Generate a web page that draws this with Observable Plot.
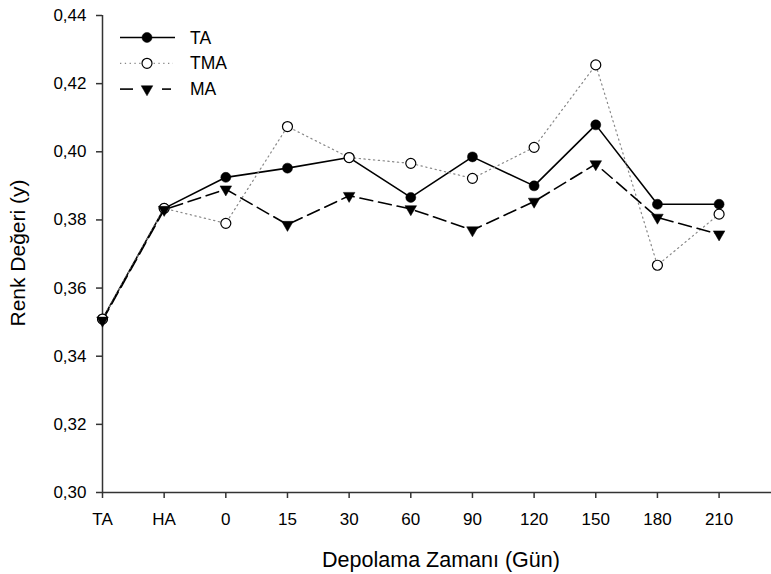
<!DOCTYPE html>
<html>
<head>
<meta charset="utf-8">
<script src="https://cdn.jsdelivr.net/npm/d3@7"></script>
<script src="https://cdn.jsdelivr.net/npm/@observablehq/plot@0.6"></script>
<style>
  html, body { margin: 0; padding: 0; background: #fff; }
  #chart { position: relative; width: 771px; height: 574px; }
</style>
</head>
<body>
<div id="chart"></div>
<script>
const categories = ["TA", "HA", "0", "15", "30", "60", "90", "120", "150", "180", "210"];
const seriesNames = ["TA", "TMA", "MA"];
const taValues  = [0.3509, 0.3834, 0.3925, 0.3952, 0.3983, 0.3866, 0.3985, 0.3900, 0.4079, 0.3846, 0.3846];
const tmaValues = [0.3509, 0.3834, 0.3790, 0.4074, 0.3983, 0.3966, 0.3922, 0.4013, 0.4255, 0.3667, 0.3817];
const maValues  = [0.3505, 0.3830, 0.3890, 0.3786, 0.3871, 0.3832, 0.3770, 0.3854, 0.3964, 0.3807, 0.3758];
const yTicks = [0.30, 0.32, 0.34, 0.36, 0.38, 0.40, 0.42, 0.44];

const toRows = (vals, s) => vals.map((v, i) => ({i, cat: categories[i], value: v, series: s}));
const ta = toRows(taValues, "TA");
const tma = toRows(tmaValues, "TMA");
const ma = toRows(maValues, "MA");

const triangleDown = {
  draw(context, size) {
    const y = Math.sqrt(size / (3 * Math.sqrt(3)));
    context.moveTo(0, 2 * y);
    context.lineTo(Math.sqrt(3) * y, -y);
    context.lineTo(-Math.sqrt(3) * y, -y);
    context.closePath();
  }
};

const fmt = d => d3.format(".2f")(d).replace(".", ",");
const font = "'Liberation Sans', Arial, sans-serif";

const chart = Plot.plot({
  width: 771,
  height: 574,
  marginLeft: 102,
  marginRight: 0,
  marginTop: 15,
  marginBottom: 82,
  style: {fontFamily: font, fontSize: "17px", color: "#000", background: "#fff", overflow: "visible"},
  x: {type: "linear", domain: [0, 10.85]},
  y: {domain: [0.30, 0.44]},
  marks: [
    Plot.axisX(d3.range(categories.length), {tickFormat: i => categories[i], tickSize: 6, tickPadding: 14, fontSize: 17, stroke: "#333", strokeWidth: 1.5, label: null}),
    Plot.axisY(yTicks, {tickFormat: fmt, tickSize: 6, tickPadding: 10, fontSize: 17, stroke: "#333", strokeWidth: 1.5, label: null}),
    Plot.ruleX([0], {stroke: "#333", strokeWidth: 1.5}),
    Plot.ruleY([0.30], {stroke: "#333", strokeWidth: 1.5}),
    Plot.line(ta, {x: "i", y: "value", stroke: "#000", strokeWidth: 1.6}),
    Plot.line(tma, {x: "i", y: "value", stroke: "#888", strokeWidth: 1.2, strokeDasharray: "1.3,3.5"}),
    Plot.line(ma, {x: "i", y: "value", stroke: "#000", strokeWidth: 1.6, strokeDasharray: "13,6"}),
    Plot.dot(ta, {x: "i", y: "value", r: 5, fill: "#000", stroke: "#000", strokeWidth: 0.5}),
    Plot.dot(tma, {x: "i", y: "value", r: 5, fill: "#fff", stroke: "#000", strokeWidth: 1.2}),
    Plot.dot(ma, {x: "i", y: "value", r: 4.3, symbol: triangleDown, fill: "#000", stroke: "#000", strokeWidth: 0.5})
  ]
});

const svg = d3.select(chart);

// Axis titles
svg.append("text")
  .attr("x", 441).attr("y", 567)
  .attr("text-anchor", "middle")
  .style("font-family", font).style("font-size", "21.5px").attr("fill", "#000")
  .text("Depolama Zamanı (Gün)");
svg.append("text")
  .attr("transform", "translate(25,253) rotate(-90)")
  .attr("text-anchor", "middle")
  .style("font-family", font).style("font-size", "21px").attr("fill", "#000")
  .text("Renk Değeri (y)");

// Legend
const legendStyles = {
  TA:  {stroke: "#000", width: 1.6, segs: [[0, 55]], dash: null, fill: "#000", symbol: d3.symbolCircle, r: 5},
  TMA: {stroke: "#888", width: 1.2, segs: [[0, 53]], dash: "1.3,3.5", fill: "#fff", symbol: d3.symbolCircle, r: 5},
  MA:  {stroke: "#000", width: 1.6, segs: [[0, 13], [42, 51]], dash: null, fill: "#000", symbol: triangleDown, r: 4.3}
};
const lg = svg.append("g").attr("transform", "translate(120,37.5)");
seriesNames.forEach((s, k) => {
  const st = legendStyles[s];
  const g = lg.append("g").attr("transform", `translate(0,${k * 25.8})`);
  st.segs.forEach(([a, b]) => {
    g.append("line").attr("x1", a).attr("x2", b).attr("y1", 0).attr("y2", 0)
      .attr("stroke", st.stroke).attr("stroke-width", st.width)
      .attr("stroke-dasharray", st.dash);
  });
  g.append("path")
    .attr("transform", "translate(27,0)")
    .attr("d", d3.symbol(st.symbol, st.r * st.r * Math.PI)())
    .attr("fill", st.fill).attr("stroke", "#000").attr("stroke-width", s === "TMA" ? 1.2 : 0.5);
  g.append("text").attr("x", 70).attr("y", 0).attr("dy", "0.35em")
    .attr("text-anchor", "start")
    .style("font-family", font).style("font-size", "17.5px").attr("fill", "#000")
    .text(s);
});

document.getElementById("chart").appendChild(chart);
</script>
</body>
</html>
